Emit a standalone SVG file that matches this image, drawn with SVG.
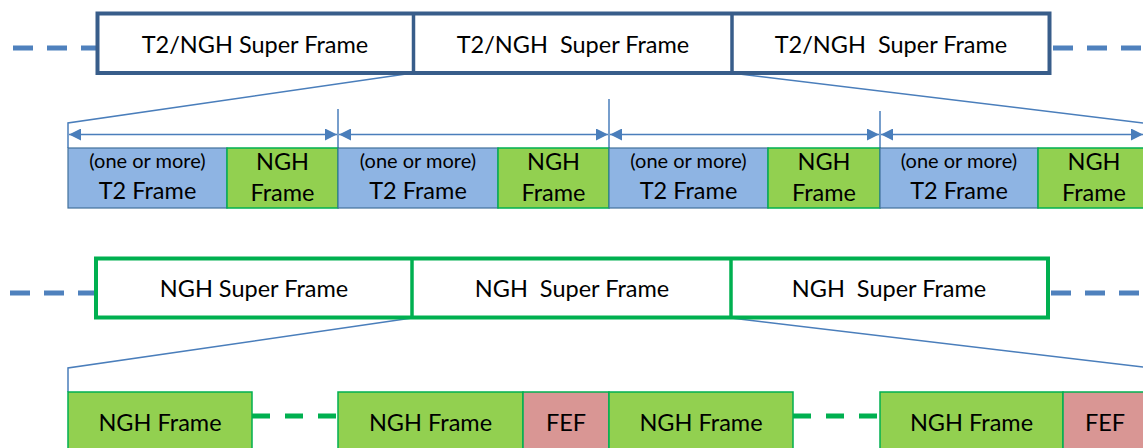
<svg xmlns="http://www.w3.org/2000/svg" width="1143" height="448" viewBox="0 0 1143 448">
<defs>
<style>
text{font-family:Lato,"Liberation Sans",sans-serif;fill:#000;text-anchor:middle}
.big{font-size:23.5px}
.sm{font-size:20px}
.sup-t2{fill:#fff;stroke:#385D8A;stroke-width:4}
.sup-ngh{fill:#fff;stroke:#00B050;stroke-width:4}
.div-t2{stroke:#385D8A;stroke-width:3.5}
.div-ngh{stroke:#00B050;stroke-width:3.5}
.t2{fill:#8EB4E3;stroke:#41719C;stroke-width:1.2}
.ngh{fill:#92D050;stroke:#00B050;stroke-width:1.5}
.fef{fill:#D99694;stroke:#00B050;stroke-width:1.5}
.dashb{stroke:#4F81BD;stroke-width:5;stroke-dasharray:20 14;fill:none}
.dashg{stroke:#00B050;stroke-width:5;stroke-dasharray:18 15;fill:none}
.thin{stroke:#4A7EBB;stroke-width:1.5;fill:none}
</style>
<marker id="ah" viewBox="0 0 12 12" refX="12" refY="6" markerWidth="12" markerHeight="12" markerUnits="userSpaceOnUse" orient="auto-start-reverse">
<path d="M0,0 L12,6 L0,12 Z" fill="#4A7EBB"/>
</marker>
</defs>

<g id="connectors">
<line class="dashb" x1="13" y1="48" x2="97" y2="48"/>
<line class="dashb" x1="1053" y1="48" x2="1143" y2="48"/>
<line class="dashb" x1="10" y1="293" x2="95" y2="293"/>
<line class="dashb" x1="1051" y1="293" x2="1143" y2="293"/>
<polyline class="thin" points="413,73 68,123 68,148"/>
<line class="thin" x1="731" y1="73" x2="1143" y2="123"/>
<line class="thin" x1="338" y1="109" x2="338" y2="148"/>
<line class="thin" x1="609" y1="99" x2="609" y2="148"/>
<line class="thin" x1="880" y1="111" x2="880" y2="148"/>
<line class="thin" x1="69" y1="134.5" x2="337" y2="134.5" marker-start="url(#ah)" marker-end="url(#ah)"/>
<line class="thin" x1="339" y1="134.5" x2="608" y2="134.5" marker-start="url(#ah)" marker-end="url(#ah)"/>
<line class="thin" x1="610" y1="134.5" x2="879" y2="134.5" marker-start="url(#ah)" marker-end="url(#ah)"/>
<line class="thin" x1="881" y1="134.5" x2="1143" y2="134.5" marker-start="url(#ah)" marker-end="url(#ah)"/>
<polyline class="thin" points="412,318 68,368 68,392"/>
<line class="thin" x1="731" y1="318" x2="1143" y2="367"/>
<line class="dashg" x1="252" y1="416" x2="338" y2="416"/>
<line class="dashg" x1="793" y1="416" x2="880" y2="416"/>
</g>

<g id="t2ngh-superframes">
<rect class="sup-t2" x="97.5" y="13.5" width="952" height="59.5"/>
<line class="div-t2" x1="413.5" y1="13.5" x2="413.5" y2="73"/>
<line class="div-t2" x1="732" y1="13.5" x2="732" y2="73"/>
</g>
<g id="t2sf1"><text class="big" x="255" y="53">T2/NGH Super Frame</text></g>
<g id="t2sf2"><text class="big" x="573" y="53" xml:space="preserve">T2/NGH  Super Frame</text></g>
<g id="t2sf3"><text class="big" x="891" y="53" xml:space="preserve">T2/NGH  Super Frame</text></g>

<g id="t2f1"><rect class="t2" x="68" y="148" width="159" height="60"/><text class="sm" x="147.5" y="168">(one or more)</text><text class="big" x="147.5" y="199">T2 Frame</text></g>
<g id="nf1"><rect class="ngh" x="227" y="148" width="111" height="60"/><text class="big" x="282.5" y="170">NGH</text><text class="big" x="282.5" y="201">Frame</text></g>
<g id="t2f2"><rect class="t2" x="338" y="148" width="160" height="60"/><text class="sm" x="418" y="168">(one or more)</text><text class="big" x="418" y="199">T2 Frame</text></g>
<g id="nf2"><rect class="ngh" x="498" y="148" width="111" height="60"/><text class="big" x="553.5" y="170">NGH</text><text class="big" x="553.5" y="201">Frame</text></g>
<g id="t2f3"><rect class="t2" x="609" y="148" width="159" height="60"/><text class="sm" x="688.5" y="168">(one or more)</text><text class="big" x="688.5" y="199">T2 Frame</text></g>
<g id="nf3"><rect class="ngh" x="768" y="148" width="112" height="60"/><text class="big" x="824" y="170">NGH</text><text class="big" x="824" y="201">Frame</text></g>
<g id="t2f4"><rect class="t2" x="880" y="148" width="158" height="60"/><text class="sm" x="959" y="168">(one or more)</text><text class="big" x="959" y="199">T2 Frame</text></g>
<g id="nf4"><rect class="ngh" x="1038" y="148" width="112" height="60"/><text class="big" x="1094" y="170">NGH</text><text class="big" x="1094" y="201">Frame</text></g>

<g id="ngh-superframes">
<rect class="sup-ngh" x="96" y="258.5" width="952" height="59"/>
<line class="div-ngh" x1="412" y1="258.5" x2="412" y2="317.5"/>
<line class="div-ngh" x1="731" y1="258.5" x2="731" y2="317.5"/>
</g>
<g id="nsf1"><text class="big" x="254" y="297">NGH Super Frame</text></g>
<g id="nsf2"><text class="big" x="572" y="297" xml:space="preserve">NGH  Super Frame</text></g>
<g id="nsf3"><text class="big" x="889" y="297" xml:space="preserve">NGH  Super Frame</text></g>

<g id="bf1"><rect class="ngh" x="68" y="392" width="184" height="62"/><text class="big" x="160" y="431">NGH Frame</text></g>
<g id="bf2"><rect class="ngh" x="338" y="392" width="185" height="62"/><text class="big" x="430.5" y="431">NGH Frame</text></g>
<g id="fef1"><rect class="fef" x="523" y="392" width="86" height="62"/><text class="big" x="566" y="431">FEF</text></g>
<g id="bf3"><rect class="ngh" x="609" y="392" width="184" height="62"/><text class="big" x="701" y="431">NGH Frame</text></g>
<g id="bf4"><rect class="ngh" x="880" y="392" width="183" height="62"/><text class="big" x="971.5" y="431">NGH Frame</text></g>
<g id="fef2"><rect class="fef" x="1063" y="392" width="90" height="62"/><text class="big" x="1105" y="431">FEF</text></g>
</svg>
